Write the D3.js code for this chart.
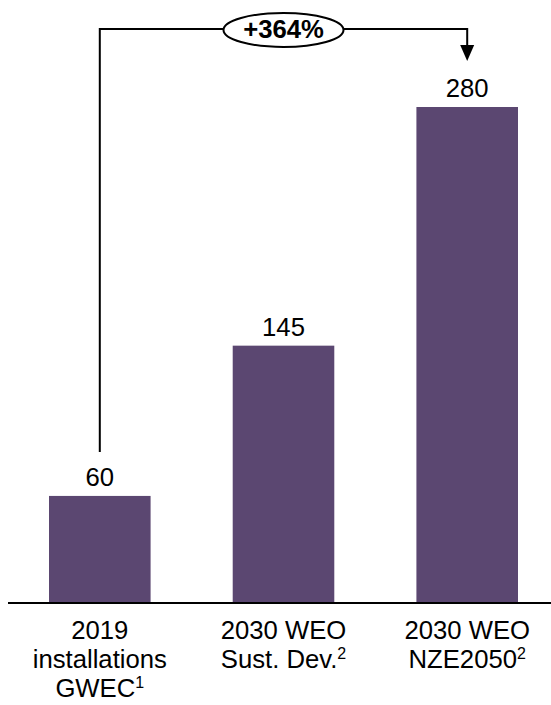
<!DOCTYPE html>
<html>
<head>
<meta charset="utf-8">
<script src="https://cdn.jsdelivr.net/npm/d3@7"></script>
<style>
  body { margin: 0; background: #fff; }
  text { font-family: Arial, "Liberation Sans", sans-serif; }
</style>
</head>
<body>
<div id="chart"></div>
<script>
// data
const categories = ["gwec2019", "weoSds", "weoNze"];
const values = [60, 145, 280];
const labelLines = [
    [["2019"], ["installations"], ["GWEC", "1"]],
    [["2030 WEO"], ["Sust. Dev.", "2"]],
    [["2030 WEO"], ["NZE2050", "2"]]
];
const growthLabel = "+364%";

const cfg = {
    width: 551,
    height: 705,
    barColor: "#5b4771",
    fontSize: 25.7
};

const svg = d3.select("#chart")
    .append("svg")
    .attr("width", cfg.width)
    .attr("height", cfg.height);

const x = d3.scaleBand()
    .domain(categories)
    .range([49, 518])
    .paddingInner(0.447)
    .paddingOuter(0);

const y = d3.scaleLinear()
    .domain([0, 280])
    .range([602, 107]);

// bars
svg.selectAll("rect.bar")
    .data(values)
    .enter()
    .append("rect")
    .attr("class", "bar")
    .attr("x", (d, i) => x(categories[i]))
    .attr("y", d => y(d))
    .attr("width", x.bandwidth())
    .attr("height", d => y(0) - y(d))
    .attr("fill", cfg.barColor);

// value labels
svg.selectAll("text.value")
    .data(values)
    .enter()
    .append("text")
    .attr("class", "value")
    .attr("x", (d, i) => x(categories[i]) + x.bandwidth() / 2)
    .attr("y", d => y(d) - 10)
    .attr("text-anchor", "middle")
    .attr("font-size", cfg.fontSize)
    .attr("fill", "#000")
    .text(d => d);

// baseline
svg.append("line")
    .attr("x1", 8)
    .attr("x2", cfg.width)
    .attr("y1", y(0) + 1)
    .attr("y2", y(0) + 1)
    .attr("stroke", "#000")
    .attr("stroke-width", 2);

// category labels
labelLines.forEach((lines, i) => {
    const cx = x(categories[i]) + x.bandwidth() / 2;
    lines.forEach((parts, j) => {
        const t = svg.append("text")
            .attr("x", cx)
            .attr("y", 639 + j * 29)
            .attr("text-anchor", "middle")
            .attr("font-size", cfg.fontSize)
            .attr("fill", "#000");
        t.append("tspan").text(parts[0]);
        if (parts[1]) {
            t.append("tspan")
                .attr("font-size", 16)
                .attr("dy", -9)
                .text(parts[1]);
        }
    });
});

// growth bracket
const x0 = x(categories[0]) + x.bandwidth() / 2;
const x1 = x(categories[2]) + x.bandwidth() / 2;
const xm = x(categories[1]) + x.bandwidth() / 2;
const bracketY = 29;

svg.append("path")
    .attr("d", d3.line()([[x0, y(values[0]) - 44], [x0, bracketY], [x1, bracketY], [x1, 46]]))
    .attr("fill", "none")
    .attr("stroke", "#000")
    .attr("stroke-width", 2);

svg.append("path")
    .attr("d", d3.line()([[x1 - 7, 45], [x1 + 7, 45], [x1, 61]]) + "Z")
    .attr("fill", "#000");

svg.append("ellipse")
    .attr("cx", xm)
    .attr("cy", bracketY + 1)
    .attr("rx", 60)
    .attr("ry", 17)
    .attr("fill", "#fff")
    .attr("stroke", "#000")
    .attr("stroke-width", 2);

svg.append("text")
    .attr("x", xm)
    .attr("y", bracketY + 9)
    .attr("text-anchor", "middle")
    .attr("font-size", cfg.fontSize)
    .attr("font-weight", "bold")
    .attr("fill", "#000")
    .text(growthLabel);
</script>
</body>
</html>
